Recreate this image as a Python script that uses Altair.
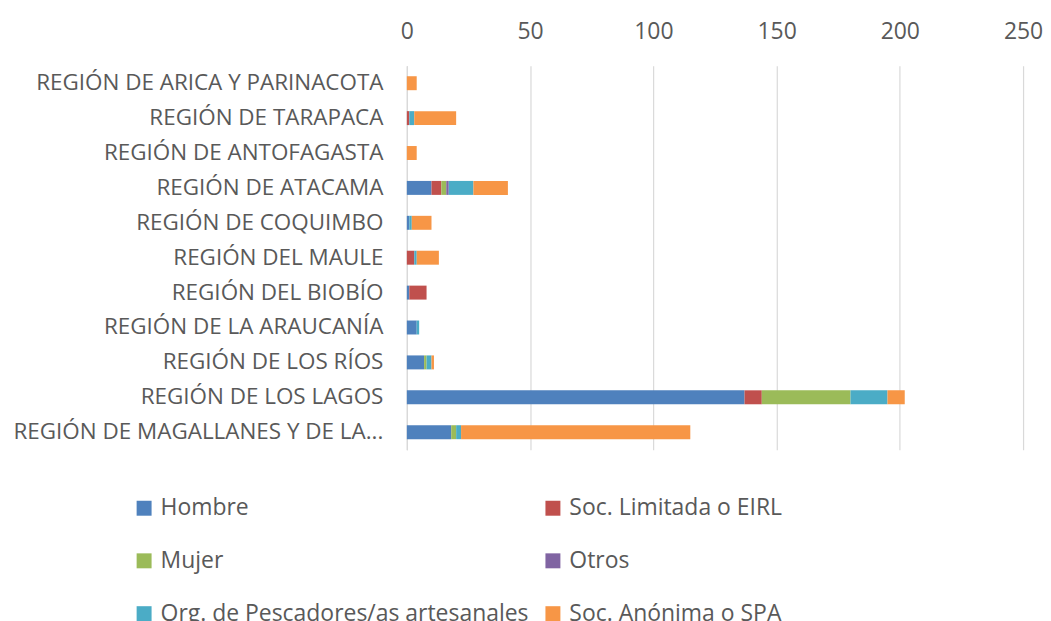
import altair as alt
import pandas as pd

regions = [
    "REGIÓN DE ARICA Y PARINACOTA",
    "REGIÓN DE TARAPACA",
    "REGIÓN DE ANTOFAGASTA",
    "REGIÓN DE ATACAMA",
    "REGIÓN DE COQUIMBO",
    "REGIÓN DEL MAULE",
    "REGIÓN DEL BIOBÍO",
    "REGIÓN DE LA ARAUCANÍA",
    "REGIÓN DE LOS RÍOS",
    "REGIÓN DE LOS LAGOS",
    "REGIÓN DE MAGALLANES Y DE LA...",
]
series = [
    "Hombre",
    "Soc. Limitada o EIRL",
    "Mujer",
    "Otros",
    "Org. de Pescadores/as artesanales",
    "Soc. Anónima o SPA",
]
colors = ["#4F81BD", "#C0504D", "#9BBB59", "#8064A2", "#4BACC6", "#F79646"]

hombre = [0, 0, 0, 10, 1, 0, 1, 4, 7, 137, 18]
soc_limitada = [0, 1, 0, 4, 0, 3, 7, 0, 0, 7, 0]
mujer = [0, 0, 0, 2, 0, 0, 0, 0, 1, 36, 2]
otros = [0, 0, 0, 1, 0, 0, 0, 0, 0, 0, 0]
org_pescadores = [0, 2, 0, 10, 1, 1, 0, 1, 2, 15, 2]
soc_anonima = [4, 17, 4, 14, 8, 9, 0, 0, 1, 7, 93]

x_ticks = [0, 50, 100, 150, 200, 250]

values = [hombre, soc_limitada, mujer, otros, org_pescadores, soc_anonima]
rows = []
for si, (s, vals) in enumerate(zip(series, values)):
    for r, v in zip(regions, vals):
        rows.append({"region": r, "serie": s, "valor": v, "orden": si})
df = pd.DataFrame(rows)

font = "Open Sans"
gray = "#595959"

chart = alt.Chart(df).mark_bar(size=14).encode(
    x=alt.X(
        "valor:Q",
        scale=alt.Scale(domain=[0, 250], nice=False),
        axis=alt.Axis(
            orient="top",
            values=x_ticks,
            title=None,
            ticks=False,
            domain=False,
            labelFontSize=23,
            labelFont=font,
            labelColor=gray,
            labelPadding=22,
            labelFlush=False,
            grid=True,
            gridColor="#D9D9D9",
            gridWidth=1.2,
        ),
        stack="zero",
    ),
    y=alt.Y(
        "region:N",
        sort=regions,
        axis=alt.Axis(
            title=None,
            ticks=False,
            domain=True,
            domainColor="#D9D9D9",
            domainWidth=1.2,
            labelFontSize=22.5,
            labelFont=font,
            labelColor=gray,
            labelPadding=24,
            labelLimit=500,
        ),
    ),
    color=alt.Color(
        "serie:N",
        sort=series,
        scale=alt.Scale(domain=series, range=colors),
        legend=alt.Legend(
            title=None,
            orient="none",
            direction="horizontal",
            legendX=-275,
            legendY=432,
            columns=2,
            columnPadding=12,
            rowPadding=29,
            symbolType="square",
            symbolSize=225,
            symbolStrokeWidth=0,
            labelFontSize=23,
            labelFont=font,
            labelColor=gray,
            labelLimit=600,
            labelOffset=5,
        ),
    ),
    order=alt.Order("orden:Q", sort="ascending"),
).properties(
    width=618,
    height=385,
    padding={"left": 400, "top": 57, "right": 20, "bottom": 200},
    autosize=alt.AutoSizeParams(type="none"),
).configure_view(stroke=None).configure_legend(symbolOpacity=1)

chart.save("out.html", embed_options={"renderer": "svg", "actions": False})
